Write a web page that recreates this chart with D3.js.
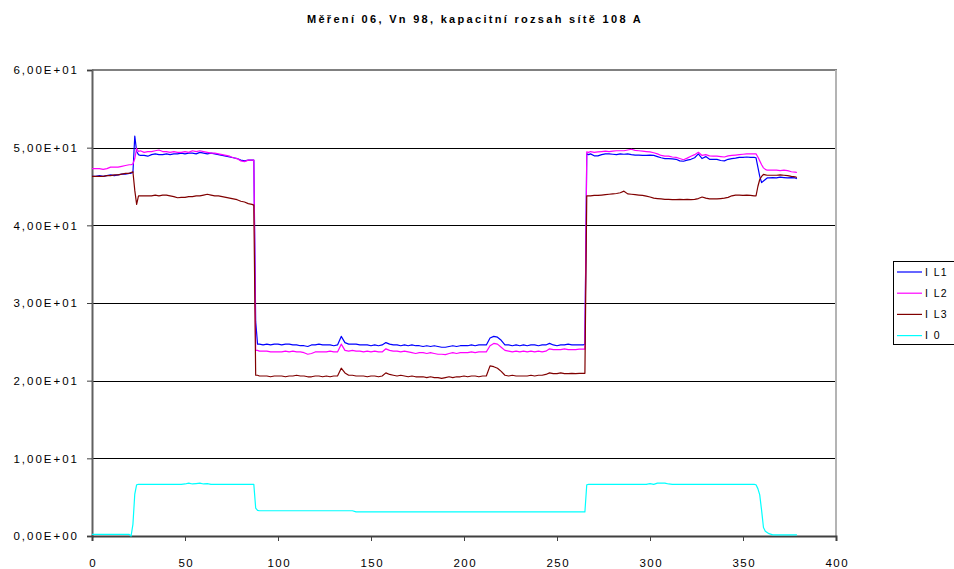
<!DOCTYPE html>
<html>
<head>
<meta charset="utf-8">
<script src="https://cdn.jsdelivr.net/npm/d3@7"></script>
<style>
  body { margin: 0; background: #fff; }
  svg { display: block; }
  text { font-family: "Liberation Sans", Arial, sans-serif; fill: #000; }
</style>
</head>
<body>
<svg id="chart" width="954" height="569"></svg>
<script>
// ---- chart data ----
const chartTitle = "Měření 06, Vn 98, kapacitní rozsah sítě 108 A";
const seriesNames = ["I L1", "I L2", "I L3", "I 0"];
const xTickValues = [0, 50, 100, 150, 200, 250, 300, 350, 400];
const yTickValues = [0, 10, 20, 30, 40, 50, 60];

// sample number of each reading
const sampleNo = [
  0, 2, 4, 6, 8, 10, 12, 14, 16, 18, 20, 21, 22, 23, 24, 25, 26,
  28, 30, 32, 34, 36, 38, 40, 42, 44, 46, 48, 50, 52, 54, 56, 58, 60, 62, 64, 66, 68, 70, 72, 74, 76, 78, 80, 82, 84, 86,
  87, 88, 89, 90,
  92, 94, 96, 98, 100, 102, 104, 106, 108, 110,
  112, 114, 116, 118, 120, 122, 124, 126, 128, 130,
  132, 134, 136, 138, 140, 142, 144, 146, 148, 150,
  152, 154, 156, 158, 160, 162, 164, 166, 168, 170,
  172, 174, 176, 178, 180, 182, 184, 186, 188, 190,
  192, 194, 196, 198, 200, 202, 204, 206, 208, 210,
  212, 214, 216, 218, 220, 222, 224, 226, 228, 230,
  232, 234, 236, 238, 240, 242, 244, 246, 248, 250,
  252, 254, 256, 258, 260, 262, 264,
  265, 266, 267, 268,
  270, 272, 274, 276, 278, 280, 282, 284, 286, 288,
  290, 292, 294, 296, 298, 300, 302, 304, 306, 308,
  310, 312, 314, 316, 318, 320, 322, 324, 326, 328,
  330, 332, 334, 336, 338, 340, 342, 344, 346, 348,
  350, 352, 354, 356,
  357, 358, 359, 360, 361, 362, 363, 364, 366, 368, 370, 372, 374, 376, 378, 379
];

const iL1 = [
  46.3, 46.3, 46.4, 46.3, 46.4, 46.5, 46.4, 46.5, 46.6, 46.6, 46.7, 46.7, 46.8, 51.5, 49.5, 49.1, 49.0,
  49.0, 48.9, 49.1, 49.2, 49.1, 49.1, 49.2, 49.1, 49.2, 49.2, 49.3, 49.2, 49.3, 49.3, 49.2, 49.4, 49.3, 49.2, 49.3, 49.2, 49.1, 49.0, 48.9, 48.8, 48.7, 48.6, 48.4, 48.3, 48.4, 48.4,
  48.4, 27.6, 24.7, 24.7,
  24.6, 24.7, 24.6, 24.7, 24.7, 24.6, 24.7, 24.7, 24.6, 24.6,
  24.5, 24.5, 24.4, 24.6, 24.6, 24.7, 24.6, 24.6, 24.6, 24.5,
  24.6, 25.7, 24.9, 24.7, 24.7, 24.7, 24.6, 24.6, 24.6, 24.5,
  24.6, 24.5, 24.6, 24.9, 24.7, 24.6, 24.6, 24.5, 24.6, 24.5,
  24.6, 24.5, 24.5, 24.4, 24.5, 24.4, 24.5, 24.4, 24.3, 24.3,
  24.4, 24.5, 24.4, 24.5, 24.5, 24.5, 24.6, 24.5, 24.6, 24.6,
  24.6, 25.5, 25.7, 25.6, 25.2, 24.6, 24.6, 24.5, 24.6, 24.5,
  24.6, 24.5, 24.6, 24.6, 24.5, 24.6, 24.6, 24.8, 24.6, 24.5,
  24.6, 24.6, 24.7, 24.6, 24.6, 24.6, 24.6,
  24.7, 49.2, 49.1, 49.2,
  48.95, 48.95, 49.1, 49.2, 49.2, 49.15, 49.1, 49.2, 49.15, 49.2,
  49.1, 49.05, 49.05, 49.0, 49.0, 49.05, 49.0, 48.85, 48.7, 48.6,
  48.6, 48.55, 48.5, 48.3, 48.25, 48.4, 48.5, 48.7, 49.2, 48.6,
  48.85, 48.5, 48.5, 48.5, 48.35, 48.3, 48.5, 48.6, 48.65, 48.75,
  48.75, 48.8, 48.75, 48.75,
  48.7, 47.5, 46.3, 45.5, 45.7, 45.9, 46.1, 46.1, 46.15, 46.1, 46.2, 46.15, 46.1, 46.15, 46.1, 46.0
];

const iL2 = [
  47.3, 47.3, 47.3, 47.2, 47.3, 47.5, 47.5, 47.5, 47.6, 47.7, 47.8, 47.8, 47.9, 48.6, 49.9, 49.5, 49.6,
  49.4, 49.5, 49.5, 49.6, 49.7, 49.5, 49.5, 49.4, 49.5, 49.4, 49.4, 49.5, 49.4, 49.6, 49.5, 49.6, 49.5, 49.4, 49.3, 49.3, 49.2, 49.1, 49.0, 48.9, 48.7, 48.6, 48.3, 48.2, 48.4, 48.4,
  48.4, 23.9, 23.9, 23.8,
  23.8, 23.8, 23.7, 23.7, 23.7, 23.7, 23.8, 23.7, 23.8, 23.7,
  23.7, 23.6, 23.4, 23.5, 23.7, 23.7, 23.7, 23.7, 23.8, 23.7,
  23.7, 24.7, 23.9, 23.8, 23.9, 23.8, 23.8, 23.7, 23.8, 23.7,
  23.8, 23.7, 23.7, 24.1, 23.9, 23.8, 23.8, 23.7, 23.8, 23.7,
  23.6, 23.5, 23.6, 23.6, 23.5, 23.6, 23.5, 23.4, 23.4, 23.35,
  23.5, 23.6, 23.5, 23.6, 23.6, 23.6, 23.7, 23.6, 23.7, 23.7,
  23.7, 24.5, 24.8, 24.7, 24.3, 23.9, 23.8, 23.7, 23.8, 23.7,
  23.8, 23.7, 23.8, 23.7, 23.8, 23.7, 23.8, 24.1, 24.0, 24.0,
  24.0, 24.1, 24.0, 24.0, 24.0, 24.05, 24.05,
  24.05, 49.45, 49.4, 49.5,
  49.4, 49.45, 49.5, 49.55, 49.5, 49.55, 49.6, 49.6, 49.6, 49.7,
  49.8, 49.65, 49.6, 49.55, 49.5, 49.45, 49.35, 49.2, 49.0, 48.9,
  48.9, 48.8, 48.75, 48.6, 48.45, 48.65, 48.9, 49.1, 49.4, 49.0,
  49.1, 48.95, 48.9, 48.9, 48.85, 48.8, 48.95, 49.0, 49.05, 49.1,
  49.15, 49.2, 49.2, 49.2,
  49.2, 48.8, 48.3, 47.8, 47.4, 47.2, 47.1, 47.1, 47.1, 47.1, 47.05, 47.1, 47.05, 46.9, 46.85, 46.8
];

const iL3 = [
  46.3, 46.3, 46.3, 46.3, 46.4, 46.4, 46.5, 46.5, 46.6, 46.7, 46.7, 46.8, 46.9, 44.5, 42.7, 43.8, 43.8,
  43.8, 43.8, 43.8, 43.9, 43.8, 43.9, 43.9, 43.8, 43.7, 43.55, 43.6, 43.6, 43.7, 43.7, 43.8, 43.8, 43.9, 44.0, 43.9, 43.8, 43.8, 43.7, 43.6, 43.5, 43.4, 43.3, 43.1, 43.0, 42.8, 42.7,
  42.6, 20.7, 20.7, 20.6,
  20.6, 20.6, 20.5, 20.6, 20.6, 20.6, 20.5, 20.6, 20.6, 20.7,
  20.6, 20.6, 20.5, 20.5, 20.6, 20.6, 20.5, 20.6, 20.5, 20.6,
  20.6, 21.6, 21.0, 20.7, 20.7, 20.6, 20.6, 20.6, 20.5, 20.6,
  20.6, 20.5, 20.6, 21.0, 20.8, 20.7, 20.6, 20.7, 20.6, 20.5,
  20.6, 20.5, 20.5, 20.5, 20.4, 20.5, 20.4, 20.4, 20.3, 20.4,
  20.5, 20.4, 20.5, 20.5, 20.6, 20.5, 20.6, 20.6, 20.5, 20.6,
  20.6, 21.9, 21.8, 21.6, 21.2, 20.7, 20.6, 20.7, 20.6, 20.6,
  20.6, 20.6, 20.7, 20.6, 20.7, 20.7, 20.8, 21.0, 20.9, 20.9,
  21.0, 20.9, 20.9, 20.95, 20.9, 20.95, 20.95,
  20.95, 43.8, 43.8, 43.8,
  43.85, 43.85, 43.9, 43.95, 44.0, 44.05, 44.1, 44.2, 44.4, 44.05,
  44.0, 43.95, 43.9, 43.85, 43.75, 43.65, 43.5, 43.45, 43.4, 43.35,
  43.35, 43.3, 43.3, 43.35, 43.3, 43.35, 43.3, 43.35, 43.45, 43.65,
  43.5, 43.4, 43.4, 43.4, 43.45, 43.5, 43.6, 43.8, 43.9, 43.9,
  43.85, 43.9, 43.85, 43.8,
  43.8, 45.0, 45.9, 46.3, 46.55, 46.5, 46.45, 46.45, 46.45, 46.45, 46.5, 46.45, 46.4, 46.3, 46.25, 46.15
];

const i0 = [
  0.2, 0.2, 0.2, 0.2, 0.2, 0.2, 0.2, 0.2, 0.2, 0.2, 0.2, 0.0, 1.5, 5.4, 6.6, 6.65, 6.65,
  6.65, 6.65, 6.65, 6.65, 6.65, 6.65, 6.65, 6.65, 6.65, 6.65, 6.65, 6.7, 6.8, 6.7, 6.75, 6.8, 6.7, 6.75, 6.65, 6.65, 6.65, 6.65, 6.65, 6.65, 6.65, 6.65, 6.65, 6.65, 6.65, 6.65,
  6.65, 3.6, 3.3, 3.25,
  3.25, 3.25, 3.25, 3.25, 3.25, 3.25, 3.25, 3.25, 3.25, 3.25,
  3.25, 3.25, 3.25, 3.25, 3.25, 3.25, 3.25, 3.25, 3.25, 3.25,
  3.25, 3.25, 3.25, 3.25, 3.25, 3.1, 3.1, 3.1, 3.1, 3.1,
  3.1, 3.1, 3.1, 3.1, 3.1, 3.1, 3.1, 3.1, 3.1, 3.1,
  3.1, 3.1, 3.1, 3.1, 3.1, 3.1, 3.1, 3.1, 3.1, 3.1,
  3.1, 3.1, 3.1, 3.1, 3.1, 3.1, 3.1, 3.1, 3.1, 3.1,
  3.1, 3.1, 3.1, 3.1, 3.1, 3.1, 3.1, 3.1, 3.1, 3.1,
  3.1, 3.1, 3.1, 3.1, 3.1, 3.1, 3.1, 3.1, 3.1, 3.1,
  3.1, 3.1, 3.1, 3.1, 3.1, 3.1, 3.1,
  3.1, 6.6, 6.65, 6.65,
  6.65, 6.65, 6.65, 6.65, 6.65, 6.65, 6.65, 6.65, 6.65, 6.65,
  6.65, 6.65, 6.65, 6.65, 6.65, 6.75, 6.65, 6.8, 6.8, 6.8,
  6.7, 6.65, 6.65, 6.65, 6.65, 6.65, 6.65, 6.65, 6.65, 6.65,
  6.65, 6.65, 6.65, 6.65, 6.65, 6.65, 6.65, 6.65, 6.65, 6.65,
  6.65, 6.65, 6.65, 6.65,
  6.6, 6.1, 5.3, 3.3, 1.1, 0.6, 0.45, 0.3, 0.15, 0.15, 0.15, 0.15, 0.15, 0.15, 0.15, 0.15
];

const seriesValues = [iL1, iL2, iL3, i0];
const seriesColors = ["#0000ff", "#ff00ff", "#800000", "#00ffff"];

// ---- layout ----
const svg = d3.select("#chart");
const plot = { left: 92, right: 836, top: 70, bottom: 536 };

const x = d3.scaleLinear().domain([0, 400]).range([plot.left, plot.right]);
const y = d3.scaleLinear().domain([0, 60]).range([plot.bottom, plot.top]);

// Excel-style scientific labels: 6,00E+01
function sciLabel(v) {
  const [m, e] = v.toExponential(2).split("e");
  const exp = parseInt(e, 10);
  const sign = exp < 0 ? "-" : "+";
  return m.replace(".", ",") + "E" + sign + String(Math.abs(exp)).padStart(2, "0");
}

// title
svg.append("text")
  .attr("x", 475)
  .attr("y", 23)
  .attr("text-anchor", "middle")
  .style("font-size", "11px")
  .style("font-weight", "bold")
  .style("letter-spacing", "2.3px")
  .text(chartTitle);

// horizontal gridlines
svg.append("g")
  .selectAll("line")
  .data(yTickValues.filter(v => v > 0 && v < 60))
  .join("line")
  .attr("x1", plot.left)
  .attr("x2", plot.right)
  .attr("y1", d => Math.round(y(d)) + 0.5)
  .attr("y2", d => Math.round(y(d)) + 0.5)
  .attr("stroke", "#000")
  .attr("stroke-width", 1);

// plot frame: top and right edges
svg.append("line")
  .attr("x1", plot.left).attr("x2", plot.right + 1)
  .attr("y1", plot.top).attr("y2", plot.top)
  .attr("stroke", "#808080").attr("stroke-width", 2);
svg.append("line")
  .attr("x1", plot.right).attr("x2", plot.right)
  .attr("y1", plot.top).attr("y2", plot.bottom)
  .attr("stroke", "#b4b4b4").attr("stroke-width", 2);

// y axis
const yAxis = svg.append("g")
  .attr("transform", `translate(${plot.left},0)`)
  .call(d3.axisLeft(y).tickValues(yTickValues).tickFormat(sciLabel).tickSize(5).tickPadding(10));
yAxis.select(".domain").attr("stroke", "#606060").attr("stroke-width", 2);
yAxis.selectAll(".tick line").attr("stroke", "#404040");
yAxis.selectAll(".tick text")
  .attr("dx", "2px")
  .style("font-family", '"Liberation Sans", Arial, sans-serif')
  .style("font-size", "11.5px")
  .style("letter-spacing", "2px")
  .attr("fill", "#000");

// x axis
const xAxis = svg.append("g")
  .attr("transform", `translate(0,${plot.bottom})`)
  .call(d3.axisBottom(x).tickValues(xTickValues).tickFormat(d3.format("d")).tickSize(5).tickPadding(18));
xAxis.select(".domain").attr("stroke", "#404040").attr("stroke-width", 2);
xAxis.selectAll(".tick line").attr("stroke", "#404040");
xAxis.selectAll(".tick text")
  .attr("dx", "0.8px")
  .style("font-family", '"Liberation Sans", Arial, sans-serif')
  .style("font-size", "11.5px")
  .style("letter-spacing", "1.5px")
  .attr("fill", "#000");

// series lines
const line = d3.line()
  .x((d, i) => x(sampleNo[i]))
  .y(d => y(d));

svg.append("g")
  .selectAll("path")
  .data(seriesValues)
  .join("path")
  .attr("d", d => line(d))
  .attr("fill", "none")
  .attr("stroke", (d, i) => seriesColors[i])
  .attr("stroke-width", 1.2)
  .attr("stroke-linejoin", "round");

// legend
const legend = svg.append("g");
legend.append("rect")
  .attr("x", 893.5).attr("y", 261.5)
  .attr("width", 80).attr("height", 83)
  .attr("fill", "#fff")
  .attr("stroke", "#000").attr("stroke-width", 1);

const entries = legend.selectAll("g.entry")
  .data(seriesNames)
  .join("g")
  .attr("class", "entry")
  .attr("transform", (d, i) => `translate(0,${272 + i * 21.2})`);
entries.append("line")
  .attr("x1", 897).attr("x2", 922)
  .attr("y1", 0).attr("y2", 0)
  .attr("stroke", (d, i) => seriesColors[i])
  .attr("stroke-width", 1.2);
entries.append("text")
  .attr("x", 925)
  .attr("y", 3.8)
  .style("font-size", "10.5px")
  .style("letter-spacing", "1.4px")
  .text(d => d);
</script>
</body>
</html>
